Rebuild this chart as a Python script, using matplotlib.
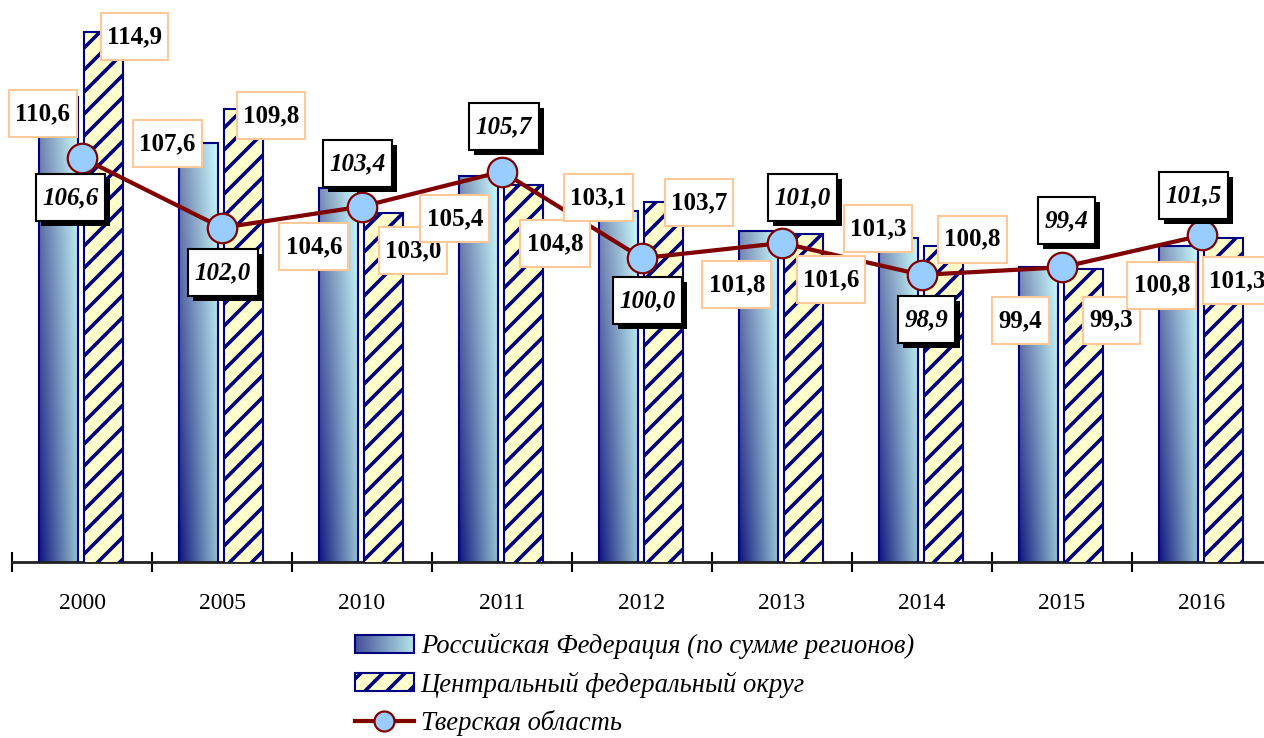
import numpy as np
import matplotlib
matplotlib.use('Agg')
import matplotlib.pyplot as plt
from matplotlib.patches import Rectangle
from matplotlib.lines import Line2D
from matplotlib.legend_handler import HandlerBase
from matplotlib.path import Path
import matplotlib.patheffects as pe
from matplotlib.colors import to_rgb

# ---------------- data ----------------
years = ['2000', '2005', '2010', '2011', '2012', '2013', '2014', '2015', '2016']
rf = [110.6, 107.6, 104.6, 105.4, 103.1, 101.8, 101.3, 99.4, 100.8]
cfo = [114.9, 109.8, 103.0, 104.8, 103.7, 101.6, 100.8, 99.3, 101.3]
tver = [106.6, 102.0, 103.4, 105.7, 100.0, 101.0, 98.9, 99.4, 101.5]
series_names = ['Российская Федерация (по сумме регионов)',
                'Центральный федеральный округ',
                'Тверская область']

# label offsets in pixels (label centre relative to the mark)
rf_off = [(-15.5, -16.8), (-31, -0.7), (-24.5, -58.2), (-23.5, -42.8), (-20, 13.6),
          (-21.5, -54.1), (-20.5, 10), (-18, -53.7), (-16.5, -39)]
cfo_off = [(31, -4.5), (27.5, -6.2), (29.5, -38.4), (31.5, -58.7), (35.5, -0.5),
           (27.5, -45.6), (29, 7), (28, -51.2), (14, -42.5)]
tver_off = [(-11.5, -40), (1, -45.2), (-4.5, 42.6), (2, 45.1), (5.5, -42.8),
            (20.5, 45.5), (4.5, -45.1), (4.5, 46.8), (-8.5, 39.9)]

# dpi chosen so that the hatch spacing matches the reference; sizes given in pixels
DPI = 66


def pt(px):
    return px * 72.0 / DPI


NAVY = '#000080'
SERIF = 'Liberation Serif'
plt.rcParams['hatch.linewidth'] = pt(3.6)

dark_lo, dark_hi = np.array(to_rgb('#10167E')), np.array(to_rgb('#7A8CB4'))
light_lo, light_hi = np.array(to_rgb('#98C4D0')), np.array(to_rgb('#CCFFFF'))


def grad(nx=40, ny=80):
    xf = np.linspace(0, 1, nx)[None, :, None]
    yf = np.linspace(0, 1, ny)[:, None, None]
    dark = dark_lo + (dark_hi - dark_lo) * yf
    light = light_lo + (light_hi - light_lo) * yf
    return np.clip(dark + (light - dark) * xf, 0, 1)


class PadBox:
    """Rectangular box with separate horizontal / vertical padding."""
    def __init__(self, padx, pady):
        self.padx, self.pady = padx, pady

    def __call__(self, x0, y0, width, height, mutation_size):
        px = self.padx * mutation_size
        py = self.pady * mutation_size
        xa, ya = x0 - px, y0 - py
        xb, yb = x0 + width + px, y0 + height + py
        return Path([(xa, ya), (xb, ya), (xb, yb), (xa, yb), (xa, ya)], closed=True)


fig = plt.figure(figsize=(1264 / DPI, 738 / DPI), dpi=DPI)
ax = fig.add_axes([12 / 1264, (738 - 562) / 738, 1260 / 1264, (562 - 30.3) / 738])

x = np.arange(len(years))
w = 0.279
rf_x = x - 0.168
cfo_x = x + 0.154
YMIN, YMAX = 80, 115

bars_rf = ax.bar(rf_x, rf, width=w, facecolor='none', edgecolor=NAVY, lw=pt(2.1), zorder=3)
g = grad()
for rect, v in zip(bars_rf, rf):
    x0 = rect.get_x()
    im = ax.imshow(g, extent=[x0, x0 + rect.get_width(), YMIN, v], origin='lower',
                   aspect='auto', interpolation='bilinear', zorder=2)
    im.set_clip_path(rect)

ax.bar(cfo_x, cfo, width=w, facecolor='#FFFFCC', edgecolor=NAVY, lw=pt(2.1),
       hatch='/', zorder=3)

ax.plot(x, tver, color='#800000', lw=pt(4.2), marker='o', markersize=pt(29.5),
        markerfacecolor='#99CCFF', markeredgecolor='#800000', markeredgewidth=pt(2.2),
        zorder=5)

ax.set_xlim(-0.5, len(years) - 0.5)
ax.set_ylim(YMIN, YMAX)

for s in ['left', 'right', 'top']:
    ax.spines[s].set_visible(False)
ax.spines['bottom'].set_linewidth(pt(2.8))
ax.spines['bottom'].set_color('#222222')
ax.set_yticks([])
ax.set_xticks(np.arange(-0.5, len(years), 1))
ax.set_xticks(x, minor=True)
ax.set_xticklabels(years, minor=True, fontsize=pt(23.6), family=SERIF)
ax.tick_params(axis='x', which='major', direction='inout', length=pt(19.5), width=pt(2.1),
               labelbottom=False, color='black')
ax.tick_params(axis='x', which='minor', length=0, pad=pt(31))


def fmt(v):
    return f'{v:.1f}'.replace('.', ',')


LABEL_FS = pt(25)


def put_label(xv, yv, off, italic=False):
    if italic:
        t = ax.annotate(fmt(yv), (xv, yv), xytext=off, textcoords='offset pixels',
                        ha='center', va='center', fontsize=LABEL_FS, fontweight='bold',
                        fontstyle='italic', family=SERIF, zorder=8,
                        bbox=dict(boxstyle=PadBox(0.26, 0.48), fc='white', ec='black',
                                  lw=pt(2.1)))
        t.get_bbox_patch().set_path_effects([
            pe.SimplePatchShadow(offset=(pt(5), -pt(5)), shadow_rgbFace='black', alpha=1.0),
            pe.Normal()])
    else:
        ax.annotate(fmt(yv), (xv, yv), xytext=off, textcoords='offset pixels',
                    ha='center', va='center', fontsize=LABEL_FS, fontweight='bold',
                    family=SERIF, zorder=7,
                    bbox=dict(boxstyle=PadBox(0.25, 0.48), fc='white', ec='#FFC898',
                              lw=pt(2.1)))


for i in range(len(years)):
    put_label(rf_x[i], rf[i], rf_off[i])
    put_label(cfo_x[i], cfo[i], cfo_off[i])
    put_label(x[i], tver[i], tver_off[i], italic=True)


# ---------------- legend ----------------
class GradHandler(HandlerBase):
    def create_artists(self, legend, orig_handle, xdescent, ydescent, width, height,
                       fontsize, trans):
        arts = []
        n = 30
        gg = grad(n, 3)[1]
        x0, y0 = -xdescent, -ydescent
        for i in range(n):
            r = Rectangle((x0 + width * i / n, y0), width / n * 1.05, height,
                          facecolor=gg[i], edgecolor='none', lw=0, transform=trans)
            arts.append(r)
        arts.append(Rectangle((x0, y0), width, height, facecolor='none',
                              edgecolor=NAVY, lw=pt(2.1), transform=trans))
        return arts


h_rf = Rectangle((0, 0), 1, 1)
h_cfo = Rectangle((0, 0), 1, 1, facecolor='#FFFFCC', edgecolor=NAVY, lw=pt(2.1), hatch='/')
h_tv = Line2D([], [], color='#800000', lw=pt(4.2), marker='o', markersize=pt(20),
              markerfacecolor='#99CCFF', markeredgecolor='#800000', markeredgewidth=pt(2.2))

fig.legend([h_rf, h_cfo, h_tv], series_names, loc='upper left',
           bbox_to_anchor=(355 / 1264, (738 - 633) / 738), frameon=False,
           borderpad=0, borderaxespad=0, handlelength=2.2, handleheight=0.68,
           handletextpad=0.27, labelspacing=0.46,
           prop=dict(family=SERIF, style='italic', size=pt(26.6)),
           handler_map={h_rf: GradHandler()})

fig.savefig('out.png', dpi=DPI)
